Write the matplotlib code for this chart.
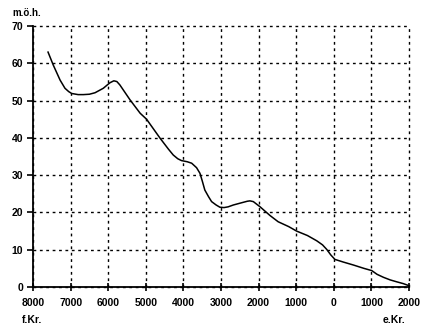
import matplotlib
matplotlib.use("Agg")
import matplotlib.pyplot as plt

years = [-7600, -7460, -7280, -7150, -7050, -6970, -6800, -6660, -6500, -6350,
         -6130, -6000, -5950, -5850, -5770, -5690, -5420, -5150, -4980, -4620,
         -4400, -4270, -4150, -4050, -3900, -3780, -3650, -3560, -3500, -3430,
         -3330, -3250, -3130, -3030, -2920, -2810, -2670, -2450, -2300, -2230,
         -2140, -1960, -1700, -1480, -1200, -990, -700, -455, -300, -190,
         -80, 30, 250, 520, 800, 1010, 1150, 1320, 1500, 1670, 1850, 2000]
level = [63.0, 59.5, 55.5, 53.3, 52.4, 51.9, 51.6, 51.6, 51.7, 52.1,
         53.3, 54.4, 54.8, 55.3, 55.1, 54.2, 50.2, 46.6, 45.0, 39.9,
         37.0, 35.4, 34.4, 33.9, 33.6, 33.2, 32.0, 30.5, 28.5, 26.0,
         24.2, 22.9, 22.0, 21.4, 21.3, 21.5, 22.0, 22.6, 23.0, 23.1,
         22.9, 21.5, 19.2, 17.5, 16.2, 15.0, 13.8, 12.4, 11.3, 10.1,
         8.6, 7.4, 6.7, 5.9, 5.0, 4.4, 3.4, 2.6, 1.9, 1.4, 0.9, 0.35]

xticks = [-8000, -7000, -6000, -5000, -4000, -3000, -2000, -1000, 0, 1000, 2000]
xticklabels = ["8000", "7000", "6000", "5000", "4000", "3000", "2000", "1000", "0", "1000", "2000"]
yticks = [0, 10, 20, 30, 40, 50, 60, 70]

plt.rcParams['font.family'] = ['Liberation Sans', 'DejaVu Sans']
plt.rcParams['font.weight'] = 'bold'

fig = plt.figure(figsize=(4.30, 3.33), dpi=100)
ax = fig.add_axes([33/430, 46/333, 376/430, 261/333])

ax.plot(years, level, color='black', lw=1.1, solid_joinstyle='round')

ax.set_xlim(-8000, 2000)
ax.set_ylim(0, 70)
ax.set_xticks(xticks)
ax.set_xticklabels(xticklabels)
ax.set_yticks(yticks)

for s in ['top', 'right']:
    ax.spines[s].set_visible(False)
for s in ['left', 'bottom']:
    ax.spines[s].set_linewidth(1.3)

ax.grid(True, color='black', lw=1.0, linestyle=(0, (2, 2.6)))
for gl in ax.get_xgridlines() + ax.get_ygridlines():
    gl.set_clip_on(False)

ax.tick_params(axis='x', direction='inout', length=6, width=1.2, labelsize=7.5, pad=5)
ax.tick_params(axis='y', direction='out', length=4, width=1.2, labelsize=7.5, pad=3)
for lab in ax.get_xticklabels() + ax.get_yticklabels():
    lab.set_fontweight('bold')

fig.text(12/430, 1 - 13/333, "m.ö.h.", fontsize=7, fontweight='bold', va='center', ha='left')
fig.text(22/430, 1 - 320/333, "f.Kr.", fontsize=7.5, fontweight='bold', va='center', ha='left')
fig.text(405/430, 1 - 320/333, "e.Kr.", fontsize=7.5, fontweight='bold', va='center', ha='right')

fig.savefig("out.png", dpi=100)
